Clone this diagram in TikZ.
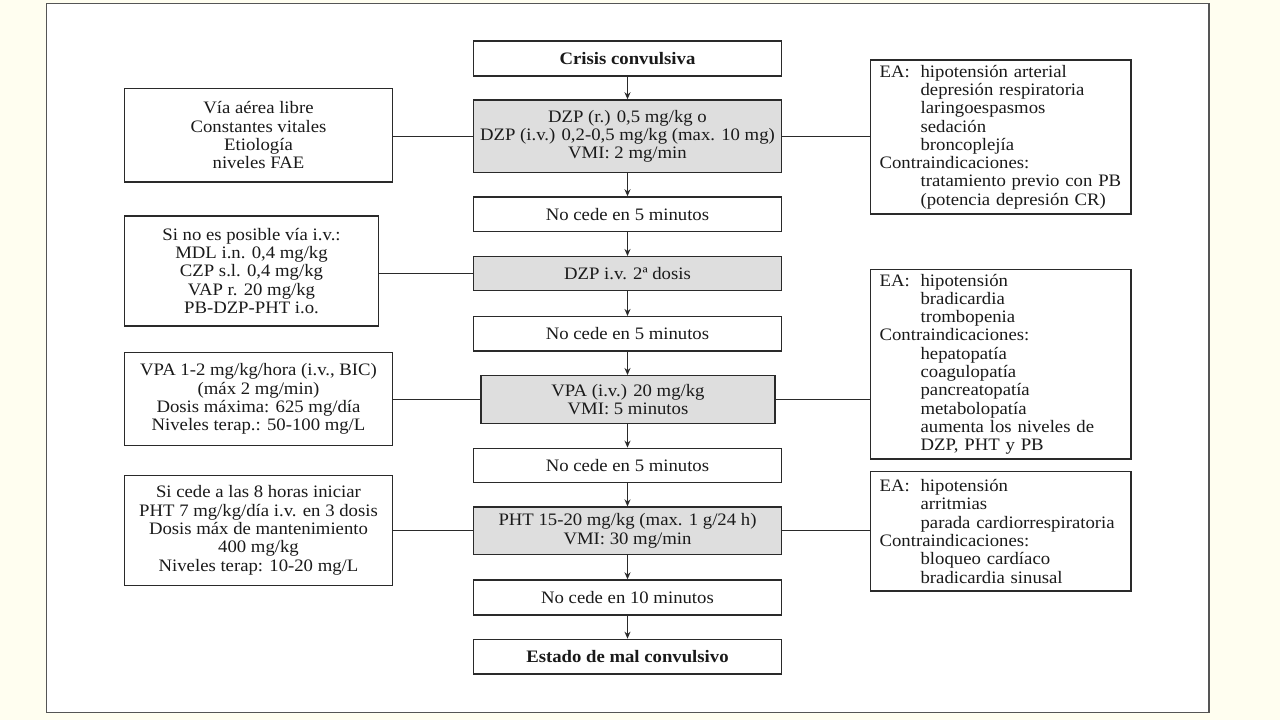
\documentclass[tikz,border=0pt]{standalone}
\usepackage{fontspec}
\setmainfont{Liberation Serif}[FakeStretch=1.07]
\usetikzlibrary{arrows.meta}
\definecolor{bgcream}{HTML}{FFFEF0}
\definecolor{boxgray}{HTML}{DEDEDE}
\definecolor{linegray}{HTML}{2A2A2A}
\definecolor{framegray}{HTML}{555555}
\definecolor{txt}{HTML}{1A1A1A}
\newcommand\indt{\hspace*{41pt}}
\begin{document}
\begin{tikzpicture}[x=1pt,y=-1pt,
  box/.style={draw=linegray, line width=1.4pt, inner sep=0pt, align=center,
    font=\fontsize{17.5pt}{18.3pt}\selectfont, text=txt},
  mainbox/.style={box, minimum width=308pt},
  drug/.style={mainbox, fill=boxgray},
  sidebox/.style={box, minimum width=268pt},
  infobox/.style={box, align=left, text width=242.4pt, inner xsep=9pt, minimum width=260.4pt},
  conn/.style={draw=linegray, line width=1.3pt},
  arr/.style={conn, -{Stealth[length=7pt,width=6pt]}}
]
\useasboundingbox (0,0) rectangle (1280,720);
\fill[bgcream] (0,0) rectangle (1280,720);
\draw[framegray, line width=1.5pt, fill=white] (46.5,3.3) rectangle (1209,712.5);

% central column
\node[mainbox, minimum height=35pt] (crisis) at (627.5,58.5) {\bfseries Crisis convulsiva};
\node[drug, minimum height=72.7pt] (dzp1) at (627.5,136.3) {DZP (r.) 0,5 mg/kg o\\DZP (i.v.) 0,2-0,5 mg/kg (max. 10 mg)\\VMI: 2 mg/min};
\node[mainbox, minimum height=34.7pt] (nc1) at (627.5,214.3) {No cede en 5 minutos};
\node[drug, minimum height=34pt] (dzp2) at (627.5,273.7) {DZP i.v. 2ª dosis};
\node[mainbox, minimum height=34.3pt] (nc2) at (627.5,333.8) {No cede en 5 minutos};
\node[drug, minimum width=294pt, minimum height=47.6pt] (vpa) at (628,399.5) {VPA (i.v.) 20 mg/kg\\VMI: 5 minutos};
\node[mainbox, minimum height=34pt] (nc3) at (627.5,465.3) {No cede en 5 minutos};
\node[drug, minimum height=47.3pt] (pht) at (627.5,530.7) {PHT 15-20 mg/kg (max. 1 g/24 h)\\VMI: 30 mg/min};
\node[mainbox, minimum height=35pt] (nc4) at (627.5,597.5) {No cede en 10 minutos};
\node[mainbox, minimum height=34.7pt] (estado) at (627.5,656.7) {\bfseries Estado de mal convulsivo};

% left boxes
\node[sidebox, minimum height=93.7pt] (l1) at (258.5,135.2) {Vía aérea libre\\Constantes vitales\\Etiología\\niveles FAE};
\node[sidebox, minimum width=254pt, minimum height=110pt] (l2) at (251.5,271) {Si no es posible vía i.v.:\\MDL i.n. 0,4 mg/kg\\CZP s.l. 0,4 mg/kg\\VAP r. 20 mg/kg\\PB-DZP-PHT i.o.};
\node[sidebox, minimum height=93.4pt] (l3) at (258.5,399) {VPA 1-2 mg/kg/hora (i.v., BIC)\\(máx 2 mg/min)\\Dosis máxima: 625 mg/día\\Niveles terap.: 50-100 mg/L};
\node[sidebox, minimum height=110pt] (l4) at (258.5,530.3) {Si cede a las 8 horas iniciar\\PHT 7 mg/kg/día i.v. en 3 dosis\\Dosis máx de mantenimiento\\400 mg/kg\\Niveles terap: 10-20 mg/L};

% right boxes
\node[infobox, minimum height=154pt] (r1) at (1000.8,137) {\makebox[41pt][l]{EA:}hipotensión arterial\\\indt depresión respiratoria\\\indt laringoespasmos\\\indt sedación\\\indt broncoplejía\\Contraindicaciones:\\\indt tratamiento previo con PB\\\indt (potencia depresión CR)};
\node[infobox, minimum height=189.7pt] (r2) at (1000.8,364.2) {\makebox[41pt][l]{EA:}hipotensión\\\indt bradicardia\\\indt trombopenia\\Contraindicaciones:\\\indt hepatopatía\\\indt coagulopatía\\\indt pancreatopatía\\\indt metabolopatía\\\indt aumenta los niveles de\\\indt DZP, PHT y PB};
\node[infobox, minimum height=119.3pt] (r3) at (1000.8,531.3) {\makebox[41pt][l]{EA:}hipotensión\\\indt arritmias\\\indt parada cardiorrespiratoria\\Contraindicaciones:\\\indt bloqueo cardíaco\\\indt bradicardia sinusal};

% arrows
\draw[arr] (crisis.south) -- (dzp1.north);
\draw[arr] (dzp1.south) -- (nc1.north);
\draw[arr] (nc1.south) -- (dzp2.north);
\draw[arr] (dzp2.south) -- (nc2.north);
\draw[arr] (nc2.south) -- (nc2.south |- vpa.north);
\draw[arr] (nc2.south |- vpa.south) -- (nc3.north);
\draw[arr] (nc3.south) -- (pht.north);
\draw[arr] (pht.south) -- (nc4.north);
\draw[arr] (nc4.south) -- (estado.north);

% side connectors
\draw[conn] (l1.east |- dzp1.west) -- (dzp1.west);
\draw[conn] (l2.east |- dzp2.west) -- (dzp2.west);
\draw[conn] (l3.east |- vpa.west) -- (vpa.west);
\draw[conn] (l4.east |- pht.west) -- (pht.west);
\draw[conn] (dzp1.east) -- (dzp1.east -| r1.west);
\draw[conn] (vpa.east) -- (vpa.east -| r2.west);
\draw[conn] (pht.east) -- (pht.east -| r3.west);
\end{tikzpicture}
\end{document}
